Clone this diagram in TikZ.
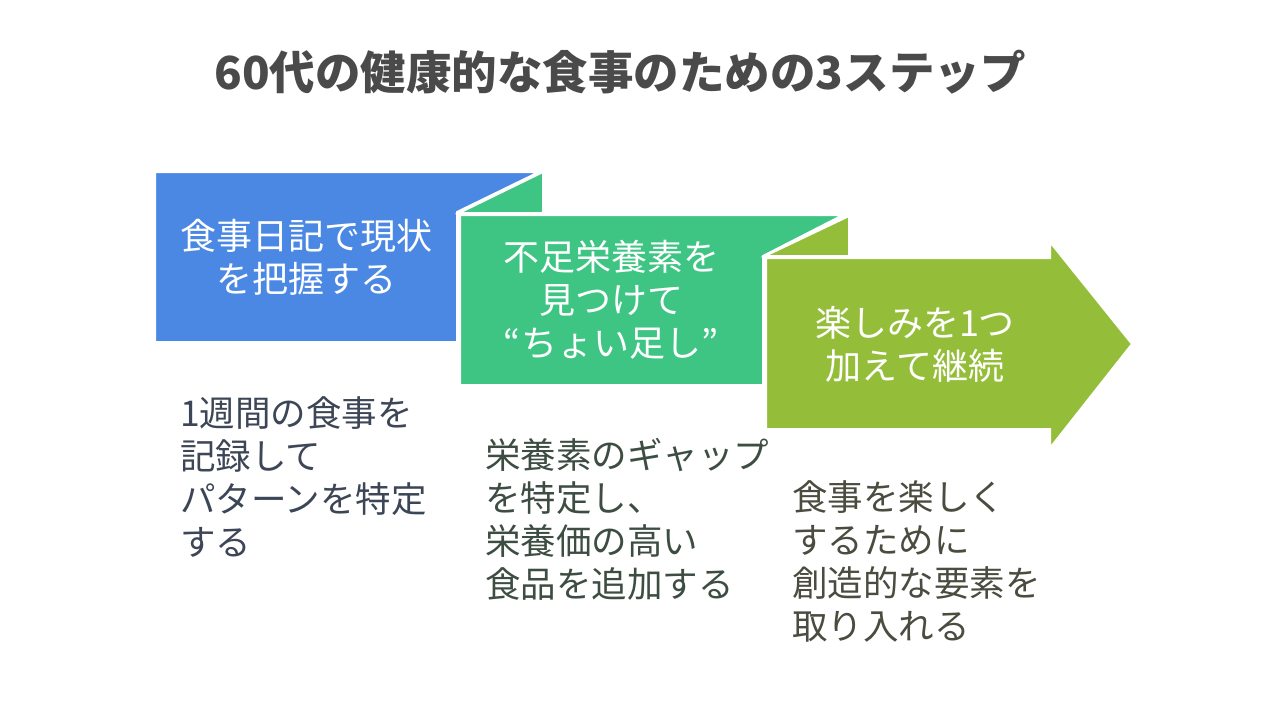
\documentclass[tikz,border=0pt]{standalone}
\usepackage{fontspec}
\setmainfont{Noto Sans CJK JP}
\definecolor{stepblue}{HTML}{4A88E4}
\definecolor{stepgreen}{HTML}{3EC584}
\definecolor{stepolive}{HTML}{94BE3A}
\definecolor{titlegray}{HTML}{4A4A4A}
\definecolor{descblue}{HTML}{3D4656}
\definecolor{descgreen}{HTML}{3D4D42}
\definecolor{descolive}{HTML}{4B4C3F}
\begin{document}
\begin{tikzpicture}[x=1pt,y=-1pt,
    panel/.style={draw=white, line width=2pt, line join=miter},
    steptext/.style={text=white, align=center, font=\fontsize{36}{43}\selectfont},
    desc/.style={anchor=north west, inner sep=0pt, align=left, font=\fontsize{35.5}{43}\selectfont}]
    \useasboundingbox (0,0) rectangle (1280,720);

    \coordinate (B1) at (155,172);
    \coordinate (B2) at (539,172);
    \coordinate (B3) at (457,212);
    \coordinate (B4) at (457,342);
    \coordinate (B5) at (155,342);

    \coordinate (GF1) at (459,213);
    \coordinate (GF2) at (543,172);
    \coordinate (GF3) at (543,213);

    \coordinate (G1) at (460,215);
    \coordinate (G2) at (843,215);
    \coordinate (G3) at (763,256);
    \coordinate (G4) at (763,385);
    \coordinate (G5) at (460,385);

    \coordinate (OF1) at (765,256);
    \coordinate (OF2) at (849,216);
    \coordinate (OF3) at (849,256);

    \coordinate (A1) at (766,258);
    \coordinate (A2) at (1050,258);
    \coordinate (A3) at (1050,242);
    \coordinate (A4) at (1132,344);
    \coordinate (A5) at (1050,448);
    \coordinate (A6) at (1050,429);
    \coordinate (A7) at (766,429);

    \fill[panel, fill=stepblue] (B1) -- (B2) -- (B3) -- (B4) -- (B5) -- cycle;
    \fill[panel, fill=stepgreen] (GF1) -- (GF2) -- (GF3) -- cycle;
    \fill[panel, fill=stepgreen] (G1) -- (G2) -- (G3) -- (G4) -- (G5) -- cycle;
    \fill[panel, fill=stepolive] (OF1) -- (OF2) -- (OF3) -- cycle;
    \fill[panel, fill=stepolive] (A1) -- (A2) -- (A3) -- (A4) -- (A5) -- (A6) -- (A7) -- cycle;

    \node[font=\bfseries\fontsize{45.5}{52}\selectfont, text=titlegray] (title) at (620,72) {60代の健康的な食事のための3ステップ};

    \node[steptext] (step1) at (306,257) {食事日記で現状\\を把握する};
    \node[steptext] (step2) at (611,300) {不足栄養素を\\見つけて\\“ちょい足し”};
    \node[steptext] (step3) at (915,344) {楽しみを1つ\\加えて継続};

    \node[desc, text=descblue] (desc1) at (180,396) {1週間の食事を\\記録して\\パターンを特定\\する};
    \node[desc, text=descgreen] (desc2) at (485,438) {栄養素のギャップ\\を特定し、\\栄養価の高い\\食品を追加する};
    \node[desc, text=descolive] (desc3) at (792,480) {食事を楽しく\\するために\\創造的な要素を\\取り入れる};
\end{tikzpicture}
\end{document}
